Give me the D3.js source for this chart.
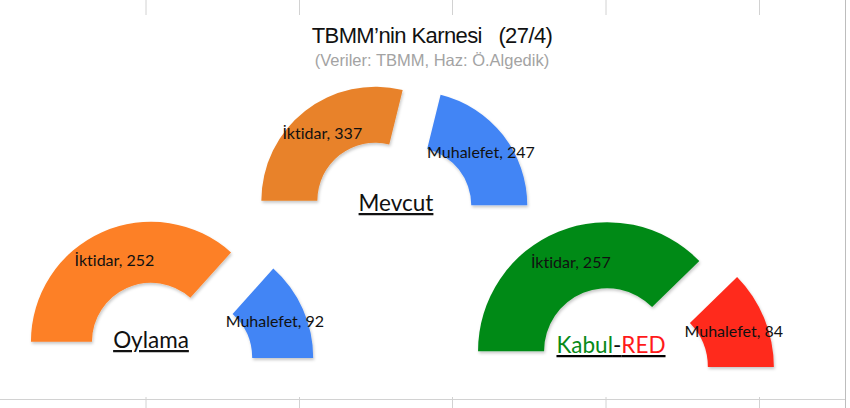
<!DOCTYPE html>
<html>
<head>
<meta charset="utf-8">
<script src="https://cdn.jsdelivr.net/npm/d3@7"></script>
<style>
  html, body { margin: 0; padding: 0; background: #fff; }
  svg { display: block; }
  text { font-variant-ligatures: none; font-feature-settings: "liga" 0; }
</style>
</head>
<body>
<div id="chart"></div>
<script>
// ── 1. Data ──────────────────────────────────
const groups    = ["Mevcut", "Oylama", "Kabul-RED"];
const sides     = ["İktidar", "Muhalefet"];
const iktidar   = [337, 252, 257];
const muhalefet = [247, 92, 84];

// ── 2. Layout per half-donut (centre, radii, explode) ──
const LAYOUT = [
  { cx: 392, cy: 222, R: 114, r: 58, ex: 27, colors: ["#e8822a", "#4385f5"] },
  { cx: 164, cy: 371, R: 120, r: 59, ex: 32, colors: ["#fd8026", "#4385f5"] },
  { cx: 618, cy: 378, R: 129, r: 63, ex: 29, colors: ["#068a18", "#ff2b1b"] },
];

const W = 850, H = 408;
const svg = d3.select("#chart").append("svg")
  .attr("width", W).attr("height", H);

// ── 3. Sheet gridlines behind the chart ──────
const grid = svg.append("g").attr("stroke", "#d2d2d2").attr("stroke-width", 1);
[146, 299.5, 452.5, 606, 759.5].forEach(x => {
  grid.append("line").attr("x1", x).attr("x2", x).attr("y1", 0).attr("y2", 15);
  grid.append("line").attr("x1", x).attr("x2", x).attr("y1", 397).attr("y2", H);
});
grid.append("line").attr("x1", 0).attr("x2", 845).attr("y1", 399.5).attr("y2", 399.5);
grid.append("line").attr("x1", 845.5).attr("x2", 845.5).attr("y1", 0).attr("y2", H)
  .attr("stroke", "#bdbdbd");

// ── 4. Soft shadow ───────────────────────────
svg.append("defs").append("filter")
  .attr("id", "shadow").attr("x", "-10%").attr("y", "-10%")
  .attr("width", "120%").attr("height", "130%")
  .append("feDropShadow")
  .attr("dx", 1).attr("dy", 2).attr("stdDeviation", 1.5)
  .attr("flood-color", "#000").attr("flood-opacity", 0.22);

// ── 5. Titles ────────────────────────────────
svg.append("text")
  .attr("x", 432).attr("y", 43)
  .attr("text-anchor", "middle")
  .attr("font-family", "'Liberation Sans', Arial, sans-serif")
  .attr("font-size", "22px")
  .attr("letter-spacing", "-0.6px")
  .attr("fill", "#111")
  .style("white-space", "pre")
  .text("TBMM’nin Karnesi   (27/4)");

svg.append("text")
  .attr("x", 432).attr("y", 66)
  .attr("text-anchor", "middle")
  .attr("font-family", "'Liberation Sans', Arial, sans-serif")
  .attr("font-size", "16.5px")
  .attr("fill", "#a3a3a3")
  .text("(Veriler: TBMM, Haz: Ö.Algedik)");

// ── 6. Half donuts ───────────────────────────
const pie = d3.pie().sort(null).value(d => d.value)
  .startAngle(-Math.PI / 2).endAngle(Math.PI / 2);

groups.forEach((g, gi) => {
  const L = LAYOUT[gi];
  const rows = [
    { side: sides[0], value: iktidar[gi] },
    { side: sides[1], value: muhalefet[gi] },
  ];
  const arc = d3.arc().innerRadius(L.r).outerRadius(L.R);
  const gg = svg.append("g").attr("transform", `translate(${L.cx},${L.cy})`);

  pie(rows).forEach((p, i) => {
    const mid = (p.startAngle + p.endAngle) / 2;
    const ox = L.ex * Math.sin(mid), oy = -L.ex * Math.cos(mid);
    const sg = gg.append("g").attr("transform", `translate(${ox},${oy})`);

    sg.append("path")
      .attr("d", arc(p))
      .attr("fill", L.colors[i])
      .attr("filter", "url(#shadow)");

    const [lx, ly] = arc.centroid(p);
    sg.append("text")
      .attr("x", lx).attr("y", ly)
      .attr("dy", "0.36em")
      .attr("text-anchor", "middle")
      .attr("font-family", "Lato, 'Open Sans', sans-serif")
      .attr("font-size", "16px")
      .attr("fill", "#111")
      .text(`${p.data.side}, ${p.data.value}`);
  });
});

// ── 7. Group names (underlined) ──────────────
const NAME_POS = [[396, 211], [151, 348], [611, 353]];
const nameFont = { family: "Lato, 'Open Sans', sans-serif", size: "22.5px" };

function groupName(i) {
  const [x, y] = NAME_POS[i];
  const t = svg.append("text")
    .attr("x", x).attr("y", y)
    .attr("text-anchor", "middle")
    .attr("font-family", nameFont.family)
    .attr("font-size", nameFont.size)
    .attr("text-decoration", "underline");
  if (groups[i] === "Kabul-RED") {
    const [a, b] = groups[i].split("-");
    t.append("tspan").attr("fill", "#078a18").text(a);
    t.append("tspan").attr("fill", "#111").text("-");
    t.append("tspan").attr("fill", "#ff1a1a").text(b);
  } else {
    t.attr("fill", "#111").text(groups[i]);
  }
}
groups.forEach((_, i) => groupName(i));
</script>
</body>
</html>
